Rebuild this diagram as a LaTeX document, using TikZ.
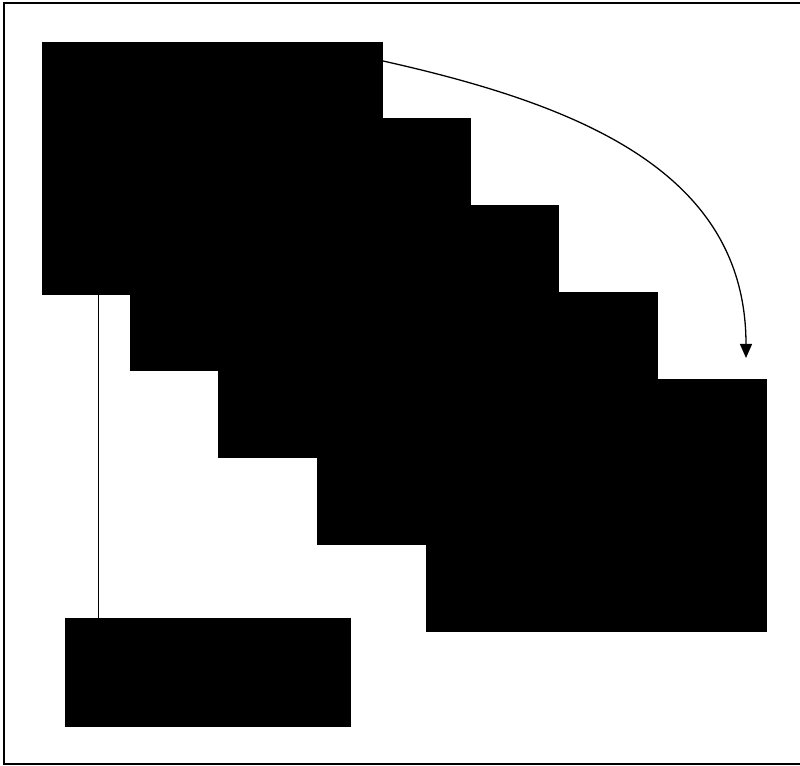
\documentclass[tikz,border=0pt]{standalone}
\usetikzlibrary{arrows.meta}
\begin{document}
\begin{tikzpicture}[x=0.03cm,y=-0.03cm,
  blk/.style={rectangle,fill=black,draw=none,inner sep=0pt,outer sep=0pt,anchor=north west,minimum width=10.23cm,minimum height=7.59cm},
  botblk/.style={rectangle,fill=black,draw=none,inner sep=0pt,outer sep=0pt,anchor=north west,minimum width=8.58cm,minimum height=3.27cm},
  frame/.style={draw=black,line width=1.2pt},
  link/.style={draw=black,line width=0.6pt},
  curved/.style={draw=black,line width=1.1pt,-{Triangle[length=0.42cm,width=0.36cm]}}]
\useasboundingbox (0,0) rectangle (800,766);
\begin{scope}
\clip (0,0) rectangle (800,766);
\draw[frame] (4,3) rectangle (812,764);
\end{scope}
\node[blk] (b5) at (426,379) {};
\node[blk] (b4) at (317,292) {};
\node[blk] (b3) at (218,205) {};
\node[blk] (b2) at (130,118) {};
\node[blk] (b1) at (42,42) {};
\node[botblk] (bot) at (65,618) {};
\coordinate (vx) at (98,0);
\coordinate (tip) at (746,358);
\draw[link] (b1.south -| vx) -- (bot.north -| vx);
\draw[curved] ([yshift=-0.57cm]b1.north east) .. controls (580,105) and (746,172) .. (tip);
\end{tikzpicture}
\end{document}
